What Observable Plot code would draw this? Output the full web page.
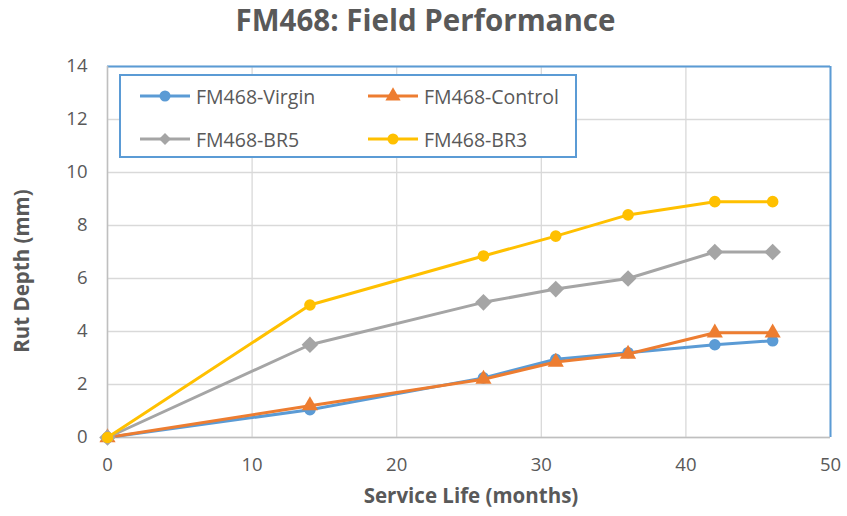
<!DOCTYPE html>
<html>
<head>
<meta charset="utf-8">
<script src="https://cdn.jsdelivr.net/npm/d3@7"></script>
<script src="https://cdn.jsdelivr.net/npm/@observablehq/plot@0.6"></script>
<style>
  body { margin: 0; background: #fff; }
  #wrap { position: relative; width: 847px; height: 516px; font-family: "Open Sans", sans-serif; color: #595959; }
  #title { height: 40px; line-height: 40px; text-align: center; font-weight: bold; font-size: 29.5px; padding-left: 4px; }
  #legend { position: absolute; left: 119px; top: 74px; width: 454px; height: 80px; border: 2px solid #5B9BD5; background: #fff; }
  .item { position: absolute; display: flex; align-items: center; font-size: 19.5px; }
  .item svg { margin-right: 6px; }
</style>
</head>
<body>
<div id="wrap">
  <div id="title">FM468: Field Performance</div>
  <div id="chart"></div>
  <div id="legend"></div>
</div>
<script>
const months = [0, 14, 26, 31, 36, 42, 46];
const virgin = [0, 1.05, 2.25, 2.95, 3.2, 3.5, 3.65];
const control = [0, 1.2, 2.2, 2.85, 3.15, 3.95, 3.95];
const br5 = [0, 3.5, 5.1, 5.6, 6.0, 7.0, 7.0];
const br3 = [0, 5.0, 6.85, 7.6, 8.4, 8.9, 8.9];
const seriesNames = ["FM468-Virgin", "FM468-Control", "FM468-BR5", "FM468-BR3"];
const seriesColors = ["#5B9BD5", "#ED7D31", "#A5A5A5", "#FFC000"];
const seriesSymbols = ["circle", "triangle", "diamond2", "circle"];
const yTicks = [0, 2, 4, 6, 8, 10, 12, 14];
const xTicks = [0, 10, 20, 30, 40, 50];

const allValues = [virgin, control, br5, br3];
const rows = [];
seriesNames.forEach((name, i) => {
  months.forEach((m, j) => rows.push({series: name, month: m, depth: allValues[i][j], idx: i}));
});

const marks = [
  Plot.gridY(yTicks, {stroke: "#D9D9D9", strokeOpacity: 1, strokeWidth: 1.3}),
  Plot.gridX(xTicks, {stroke: "#D9D9D9", strokeOpacity: 1, strokeWidth: 1.3}),
  Plot.ruleY([yTicks[yTicks.length - 1]], {stroke: "#5B9BD5", strokeWidth: 2}),
  Plot.ruleX([xTicks[xTicks.length - 1]], {stroke: "#5B9BD5", strokeWidth: 2}),
  Plot.ruleX([0], {stroke: "#BFBFBF", strokeWidth: 1.5}),
  Plot.ruleY([0], {stroke: "#BFBFBF", strokeWidth: 1.5}),
  Plot.axisY(yTicks, {tickSize: 0, tickPadding: 20, fontSize: 18.5, fill: "#595959", label: null}),
  Plot.axisX(xTicks, {tickSize: 0, tickPadding: 20, fontSize: 18.5, fill: "#595959", label: null}),
  Plot.text(["Rut Depth (mm)"], {frameAnchor: "left", textAnchor: "middle", dx: -85, dy: 19, rotate: -90, fontSize: 20.5, fontWeight: "bold", fill: "#595959"}),
  Plot.text(["Service Life (months)"], {frameAnchor: "bottom", textAnchor: "middle", dx: 2, dy: 65, fontSize: 20.5, fontWeight: "bold", fill: "#595959"})
];
seriesNames.forEach((name, i) => {
  const d = rows.filter(r => r.idx === i);
  marks.push(Plot.line(d, {x: "month", y: "depth", stroke: seriesColors[i], strokeWidth: 3}));
  marks.push(Plot.dot(d, {x: "month", y: "depth", fill: seriesColors[i], stroke: "none",
    symbol: () => seriesSymbols[i], r: seriesSymbols[i] === "circle" ? 5.8 : seriesSymbols[i] === "triangle" ? 6 : 7.5}));
});

const chart = Plot.plot({
  width: 847,
  height: 476,
  marginLeft: 107,
  marginRight: 17,
  marginTop: 26,
  marginBottom: 79,
  x: {domain: [0, 50]},
  y: {domain: [0, 14]},
  symbol: {type: "identity"},
  style: {fontFamily: "'Open Sans', sans-serif", background: "white", overflow: "visible"},
  marks
});
document.getElementById("chart").appendChild(chart);

// legend
const legend = document.getElementById("legend");
const pos = [[19, 20], [247, 20], [19, 63], [247, 63]];
seriesNames.forEach((name, i) => {
  const it = document.createElement("div");
  it.className = "item";
  it.style.left = pos[i][0] + "px";
  it.style.top = (pos[i][1] - 14) + "px";
  it.style.height = "28px";
  const t = seriesSymbols[i] === "circle" ? d3.symbolCircle : seriesSymbols[i] === "triangle" ? d3.symbolTriangle : d3.symbolDiamond2;
  const size = seriesSymbols[i] === "circle" ? Math.PI * 5.5 * 5.5 : seriesSymbols[i] === "triangle" ? 100 : 90;
  it.innerHTML = `<svg width="50" height="20"><line x1="0" x2="50" y1="10" y2="10" stroke="${seriesColors[i]}" stroke-width="3"/><path transform="translate(25,10)" d="${d3.symbol(t, size)()}" fill="${seriesColors[i]}"/></svg><span>${name}</span>`;
  legend.appendChild(it);
});
</script>
</body>
</html>
